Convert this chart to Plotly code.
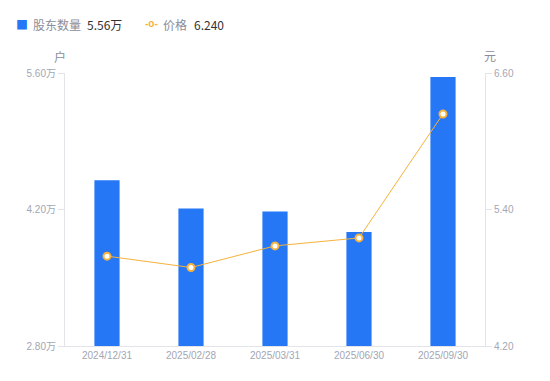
import plotly.graph_objects as go

dates = ["2024/12/31", "2025/02/28", "2025/03/31", "2025/06/30", "2025/09/30"]
holders = [4.50, 4.21, 4.18, 3.97, 5.56]   # 万户
prices = [4.99, 4.89, 5.08, 5.15, 6.24]    # 元

left_ticks = [2.80, 4.20, 5.60]
left_labels = ["2.80万", "4.20万", "5.60万"]
right_ticks = [4.20, 5.40, 6.60]
right_labels = ["4.20", "5.40", "6.60"]

holder_latest = "5.56万"
price_latest = "6.240"

font_family = "Liberation Sans, Noto Sans CJK SC, sans-serif"
tick_color = "#a3a6b4"
axis_color = "#e3e4e8"
bar_color = "#2577f5"
line_color = "#f6b23c"

L, R, T, B = 65, 65, 73, 35
W, H = 550, 381
PW, PH = W - L - R, H - T - B


def px(x):
    return (x - L) / PW


def py(y):
    return (H - B - y) / PH


fig = go.Figure()
fig.add_trace(go.Bar(
    x=dates, y=holders, width=0.3,
    marker=dict(color=bar_color, line=dict(width=0)),
    name="股东数量", yaxis="y", showlegend=False,
))
fig.add_trace(go.Scatter(
    x=dates, y=prices, mode="lines+markers",
    line=dict(color=line_color, width=1),
    marker=dict(size=7, color="#ffffff", line=dict(color=line_color, width=2)),
    name="价格", yaxis="y2", showlegend=False,
))

ann = [
    dict(text="户", x=px(60), y=py(57), xanchor="center", font=dict(size=12, color="#8a8d99")),
    dict(text="元", x=px(490), y=py(57), xanchor="center", font=dict(size=12, color="#8a8d99")),
    dict(text="■", x=px(21.5), y=py(24.5), xanchor="center",
         font=dict(size=12, color=bar_color, family="Noto Sans CJK SC")),
    dict(text="股东数量", x=px(31), y=py(24.5), xanchor="left",
         font=dict(size=12, color="#8a8d99", family="Noto Sans CJK SC")),
    dict(text=holder_latest, x=px(85), y=py(24.5), xanchor="left",
         font=dict(size=12, color="#333333", family="Noto Sans CJK SC")),
    dict(text="<b>-o-</b>", x=px(151.5), y=py(23.5), xanchor="center",
         font=dict(size=10, color=line_color, family="Liberation Sans")),
    dict(text="价格", x=px(161), y=py(24.5), xanchor="left",
         font=dict(size=12, color="#8a8d99", family="Noto Sans CJK SC")),
    dict(text=price_latest, x=px(192), y=py(24.5), xanchor="left",
         font=dict(size=12, color="#333333", family="Noto Sans CJK SC")),
]
for a in ann:
    a.update(xref="paper", yref="paper", showarrow=False, yanchor="middle")

fig.update_layout(
    width=W, height=H,
    margin=dict(l=L, r=R, t=T, b=B),
    plot_bgcolor="#ffffff", paper_bgcolor="#ffffff",
    font=dict(family=font_family, size=11, color=tick_color),
    showlegend=False,
    xaxis=dict(
        showline=True, linecolor=axis_color, linewidth=1,
        ticks="", showgrid=False, tickfont=dict(size=10, color=tick_color),
        automargin=False,
    ),
    yaxis=dict(
        range=[2.80, 5.60], tickvals=left_ticks, ticktext=left_labels,
        showline=True, linecolor=axis_color, linewidth=1,
        ticks="outside", ticklen=6, tickcolor=axis_color,
        showgrid=False, zeroline=False, tickfont=dict(size=10, color=tick_color),
        automargin=False,
    ),
    yaxis2=dict(
        range=[4.20, 6.60], tickvals=right_ticks, ticktext=right_labels,
        overlaying="y", side="right",
        showline=True, linecolor=axis_color, linewidth=1,
        ticks="outside", ticklen=6, tickcolor=axis_color,
        showgrid=False, zeroline=False, tickfont=dict(size=10, color=tick_color),
        automargin=False,
    ),
    annotations=ann,
)

fig.write_html(
    "out.html",
    config={"displayModeBar": False},
    post_script="document.body.style.margin='0';document.body.style.overflow='hidden';",
)
